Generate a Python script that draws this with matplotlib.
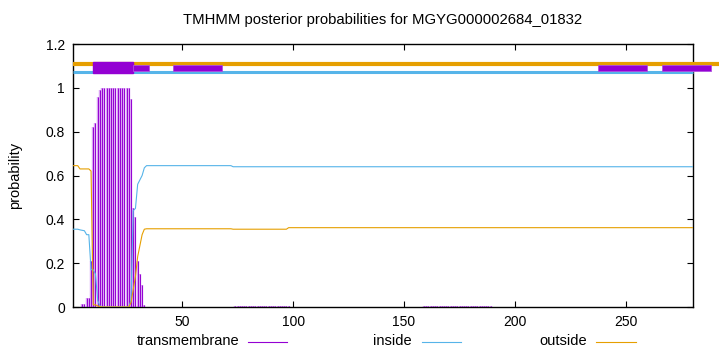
import numpy as np
import matplotlib
matplotlib.use('Agg')
from matplotlib import pyplot as plt
from matplotlib.lines import Line2D
from matplotlib.patches import Rectangle

plt.rcParams['font.family'] = ['Liberation Sans', 'DejaVu Sans']

# posterior probabilities per residue (1..280)
tm = ([0, 0, 0, 0, 0.015, 0.015, 0.04, 0.04, 0.21, 0.82, 0.84, 0.96, 0.99]
      + [1.0] * 13
      + [0.95, 0.45, 0.41, 0.21, 0.15, 0.10, 0.01]
      + [0.0] * 40 + [0.005] * 25 + [0.0] * 60 + [0.004] * 31 + [0.0] * 91)
inside = ([0.355, 0.355, 0.355, 0.352, 0.350, 0.348, 0.330, 0.330, 0.170, 0.170, 0.150, 0.030, 0.005]
          + [0.0] * 13
          + [0.03, 0.44, 0.45, 0.56, 0.58, 0.60, 0.635]
          + [0.645] * 39 + [0.640] * 208)
outside = ([0.645, 0.645, 0.645, 0.630, 0.630, 0.630, 0.630, 0.630, 0.620, 0.010, 0.010, 0.005, 0.002]
           + [0.0] * 13
           + [0.02, 0.08, 0.14, 0.23, 0.28, 0.33, 0.355]
           + [0.357] * 39 + [0.355] * 25 + [0.362] * 183)
pos = np.arange(1, len(tm) + 1)

# predicted topology boxes on top (start, end)
tm_box = (10.0, 27.8)
other_boxes = [(27.8, 35.1), (46.0, 68.1), (237.2, 259.3), (266.0, 288.1)]

title = 'TMHMM posterior probabilities for MGYG000002684_01832'
purple = '#9400d3'
blue = '#56b4e9'
orange = '#e69f00'

fig = plt.figure(figsize=(7.2, 3.52), dpi=100)
ax = fig.add_axes([0.1018, 0.1278, 0.8602, 0.7472])

ax.vlines(pos, 0, tm, color='#d9a3f3', lw=1.75, zorder=2)
ax.vlines(pos, 0, tm, color=purple, lw=0.7, zorder=3)
ax.plot(pos, inside, color=blue, lw=0.8, zorder=4)
ax.plot(pos, outside, color=orange, lw=0.8, zorder=4)

# topology lines and boxes
ax.plot([1, 292], [1.11, 1.11], color=orange, lw=3.0, clip_on=False, solid_capstyle='butt', zorder=5)
ax.plot([1, 280], [1.072, 1.072], color=blue, lw=2.2, clip_on=False, solid_capstyle='butt', zorder=5)
ax.add_patch(Rectangle((tm_box[0], 1.069), tm_box[1] - tm_box[0], 0.048,
                       color=purple, clip_on=False, zorder=6))
for a, b in other_boxes:
    ax.add_patch(Rectangle((a, 1.075), b - a, 0.027, facecolor=purple,
                           edgecolor='#b050e0', lw=0.6, clip_on=False, zorder=6))

ax.set_xlim(1, 280)
ax.set_ylim(0, 1.2)
ax.set_xticks([50, 100, 150, 200, 250])
ax.set_yticks([0, 0.2, 0.4, 0.6, 0.8, 1.0, 1.2])
ax.set_yticklabels(['0', '0.2', '0.4', '0.6', '0.8', '1', '1.2'])
ax.tick_params(direction='in', top=True, right=True, length=4, width=0.8,
               labelsize=10, colors='black', pad=6)
for s in ax.spines.values():
    s.set_linewidth(1.0)

fig.text(0.532, 0.943, title, ha='center', va='center', fontsize=10.7)
fig.text(0.021, 0.501, 'probability', ha='center', va='center', rotation=90, fontsize=10.5)

# legend along the bottom
legend = [('transmembrane', purple, 0.332, 0.344, 0.398),
          ('inside', blue, 0.572, 0.586, 0.640),
          ('outside', orange, 0.815, 0.828, 0.883)]
for label, c, tx, x0, x1 in legend:
    fig.text(tx, 0.03, label, ha='right', va='center', fontsize=10.5)
    fig.add_artist(Line2D([x0, x1], [0.028, 0.028], color=c, lw=0.8,
                          transform=fig.transFigure))

fig.savefig('out.png', dpi=100)
